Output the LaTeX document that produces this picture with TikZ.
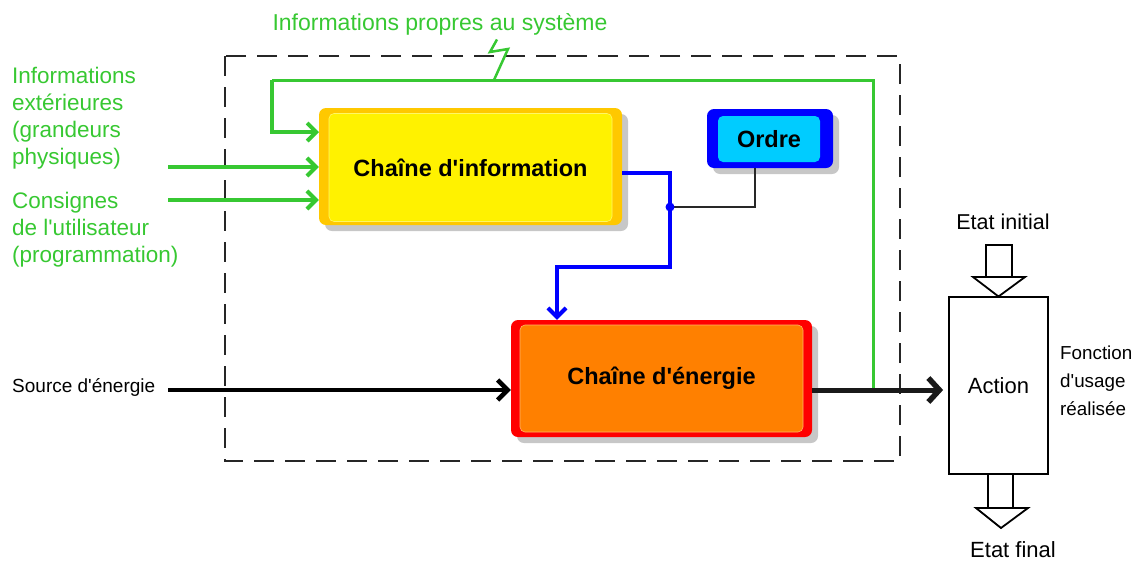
\documentclass[tikz,border=0pt]{standalone}
\usepackage{fontspec}
\setmainfont{Liberation Sans}[Ligatures=TeXOff]
\usetikzlibrary{arrows.meta,shadows}
\definecolor{sysgreen}{RGB}{55,200,50}
\definecolor{infoedge}{RGB}{255,200,0}
\definecolor{infofill}{RGB}{255,242,0}
\definecolor{ordreedge}{RGB}{0,0,255}
\definecolor{ordrefill}{RGB}{0,204,255}
\definecolor{energyedge}{RGB}{255,0,0}
\definecolor{energyfill}{RGB}{255,128,0}
\definecolor{linkblue}{RGB}{0,0,255}
\definecolor{linkdark}{RGB}{40,40,40}

\begin{document}
\begin{tikzpicture}[x=1pt,y=-1pt,
  outerbox/.style={rectangle, rounded corners=7pt, inner sep=0pt,
    drop shadow={shadow xshift=6pt, shadow yshift=-6pt, fill=black!22, opacity=1}},
  innerbox/.style={rectangle, rounded corners=5pt, inner sep=0pt,
    font=\fontsize{23.5}{28}\selectfont\bfseries},
  chevron/.style={-{Straight Barb[length=9pt,width=18pt,line width=4pt]}},
  greenflow/.style={draw=sysgreen, line width=3.5pt, chevron},
  greenline/.style={draw=sysgreen, line width=3pt},
  greentext/.style={text=sysgreen, align=left, inner sep=0pt,
    font=\fontsize{22.5}{27}\selectfont},
  blueflow/.style={draw=linkblue, line width=3.5pt},
  blacktext/.style={inner sep=0pt},
  hollow/.style={draw=black, line width=1.8pt, fill=white},
  boundary/.style={draw=black!85, line width=2.6pt, dash pattern=on 20pt off 11pt}
]
\useasboundingbox (0,0) rectangle (1140,563);

% system boundary
\draw[boundary] (225,56) rectangle (900,461);

% boxes
\node[outerbox, fill=infoedge, minimum width=303pt, minimum height=117pt] (info) at (470.5,166.5) {};
\node[innerbox, fill=infofill, draw=infofill!60!white, line width=0.6pt,
      minimum width=283pt, minimum height=108pt] (infoin) at (470.5,167.5) {Chaîne d'information};

\node[outerbox, fill=ordreedge, minimum width=126pt, minimum height=59pt] (ordre) at (770,138.5) {};
\node[innerbox, fill=ordrefill, minimum width=102pt, minimum height=46pt] (ordrein) at (769,139) {Ordre};

\node[outerbox, fill=energyedge, minimum width=301pt, minimum height=117pt] (energy) at (661.5,378.5) {};
\node[innerbox, fill=energyfill, draw=energyfill!60!white, line width=0.6pt,
      minimum width=283pt, minimum height=107pt] (energyin) at (661.5,378.5) {Chaîne d'énergie};

\node[draw=black, line width=1.8pt, fill=white, minimum width=99pt, minimum height=177pt,
      inner sep=0pt, font=\fontsize{22}{26}\selectfont] (action) at (998.5,385.5) {Action};

% texts
\node[greentext, font=\fontsize{23}{27}\selectfont] (titre) at (440,24) {Informations propres au système};
\node[greentext, anchor=west] (infoext) at (12,118)
  {Informations\\extérieures\\(grandeurs\\physiques)};
\node[greentext, anchor=west] (consignes) at (12,230)
  {Consignes\\de l'utilisateur\\(programmation)};
\node[blacktext, anchor=west, font=\fontsize{19}{23}\selectfont] (source) at (12,387) {Source d'énergie};
\node[blacktext, font=\fontsize{21.5}{25}\selectfont] (etatinit) at (1003,222) {Etat initial};
\node[blacktext, font=\fontsize{22}{26}\selectfont] (etatfin) at (1013,550) {Etat final};
\node[blacktext, anchor=west, align=left, font=\fontsize{18.8}{28}\selectfont] (fonction) at (1060,381)
  {Fonction\\d'usage\\réalisée};

% connection points
\coordinate (ginA) at (168,167);
\coordinate (ginB) at (168,200);
\coordinate (fbin) at (319,132);
\coordinate (fbtop) at (272,80);
\coordinate (fbfoot) at (873,390);
\coordinate (bluestart) at (622,173);
\coordinate (junction) at (670,207);
\coordinate (bluecorner) at (670,267);
\coordinate (bluedrop) at (557,267);
\coordinate (ordrelink) at (755,207);
\coordinate (srcstart) at (168,390);
\coordinate (outstart) at (812,390);
\coordinate (bolt) at (494,80);

% green information inputs
\draw[greenflow] (ginA) -- (ginA -| info.west);
\draw[greenflow] (ginB) -- (ginB -| info.west);
\draw[greenline] (fbfoot) |- (fbtop);
\draw[greenflow] (fbtop) |- (fbin);
\draw[greenline, line width=2.5pt, line join=miter]
  (bolt) -- (508,49) -- (490,52) -- (497,39.5);

% information to energy chain (blue) and order link
\draw[blueflow, chevron, line join=miter] (bluestart) -| (bluecorner) -- (bluedrop)
  -- (bluedrop |- energy.north);
\draw[linkdark, line width=2.3pt] (junction) -| (ordrelink |- ordre.south);
\fill[linkblue] (junction) circle (4.5pt);

% energy flows
\draw[black, line width=3.2pt,
      -{Straight Barb[length=10pt,width=20pt,line width=4.5pt]}]
  (srcstart) -- (srcstart -| energy.west);
\draw[black!90, line width=5pt,
      -{Straight Barb[length=11pt,width=24pt,line width=5.5pt]}]
  (outstart) -- ([xshift=-5pt]outstart -| action.west);

% initial / final state arrows
\draw[hollow] (986,245) rectangle (1012,277);
\draw[hollow, line join=miter] (973,277) -- (1025,277) -- (998.5,296.5) -- cycle;
\draw[hollow] (988,474) rectangle (1013,508);
\draw[hollow, line join=miter] (976,508) -- (1028,508) -- (1001,528) -- cycle;
\end{tikzpicture}
\end{document}
